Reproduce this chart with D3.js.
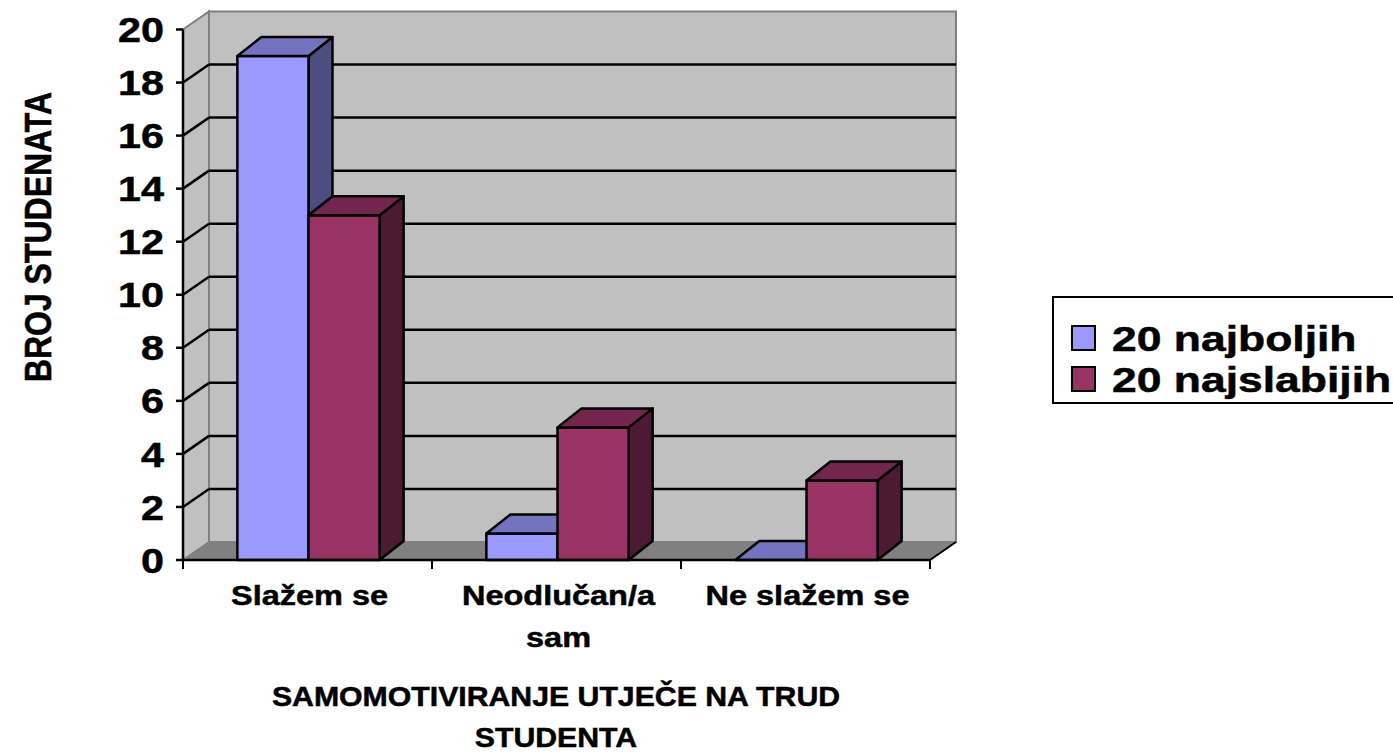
<!DOCTYPE html>
<html>
<head>
<meta charset="utf-8">
<script src="https://cdn.jsdelivr.net/npm/d3@7"></script>
<style>
  body { margin: 0; background: #fff; }
  text { font-family: "Liberation Sans", Arial, sans-serif; font-weight: bold; fill: #000; stroke: #000; stroke-width: 0.5px; }
</style>
</head>
<body>
<div id="chart"></div>
<script>
// data
const categories = ["Slažem se", "Neodlučan/a sam", "Ne slažem se"];
const categoryLines = [["Slažem se"], ["Neodlučan/a", "sam"], ["Ne slažem se"]];
const seriesNames = ["20 najboljih", "20 najslabijih"];
const najboljih = [19, 1, 0];
const najslabijih = [13, 5, 3];
const yTicks = [0, 2, 4, 6, 8, 10, 12, 14, 16, 18, 20];
const yTitle = "BROJ STUDENATA";
const xTitle = ["SAMOMOTIVIRANJE UTJEČE NA TRUD", "STUDENTA"];

const width = 1393, height = 753;
const wallDX = 26, wallDY = -18;   // depth of the walls
const barDX = 24, barDY = -19;     // depth of the bars
const frontColors = ["#9999ff", "#993366"];
const topColors = ["#7373bf", "#73264d"];
const sideColors = ["#4d4d80", "#4d1a33"];

const svg = d3.select("#chart").append("svg")
    .attr("width", width)
    .attr("height", height);

const x = d3.scaleBand().domain(categories).range([183, 930]);
const xs = d3.scaleBand().domain(seriesNames).range([0, x.bandwidth()])
    .paddingInner(0).paddingOuter(0.75);
const y = d3.scaleLinear().domain([0, 20]).range([560, 29.5]);

const x0 = x.range()[0], x1 = x.range()[1];
const yMax = y(20), yMin = y(0);

// walls and floor
svg.append("polygon")
    .attr("points", [[x0, yMin], [x0, yMax], [x0 + wallDX, yMax + wallDY], [x0 + wallDX, yMin + wallDY]].join(" "))
    .style("fill", "#c0c0c0")
    .style("stroke", "#808080")
    .style("stroke-width", 2);

svg.append("rect")
    .attr("x", x0 + wallDX)
    .attr("y", yMax + wallDY)
    .attr("width", x1 - x0)
    .attr("height", yMin - yMax)
    .style("fill", "#c0c0c0")
    .style("stroke", "#808080")
    .style("stroke-width", 2);

svg.append("polygon")
    .attr("points", [[x0, yMin], [x0 + wallDX, yMin + wallDY], [x1 + wallDX, yMin + wallDY], [x1, yMin]].join(" "))
    .style("fill", "#808080")
    .style("stroke", "none");

svg.append("line")
    .attr("x1", x1).attr("y1", yMin)
    .attr("x2", x1 + wallDX).attr("y2", yMin + wallDY)
    .style("stroke", "#000")
    .style("stroke-width", 2);

// gridlines
const grid = svg.append("g");
yTicks.filter(t => t > 0 && t < 20).forEach(t => {
    grid.append("line")
        .attr("x1", x0 + wallDX).attr("y1", y(t) + wallDY)
        .attr("x2", x1 + wallDX).attr("y2", y(t) + wallDY)
        .style("stroke", "#000")
        .style("stroke-width", 2.5);
    grid.append("line")
        .attr("x1", x0).attr("y1", y(t))
        .attr("x2", x0 + wallDX).attr("y2", y(t) + wallDY)
        .style("stroke", "#000")
        .style("stroke-width", 2.5);
});

// bars
const series = [najboljih, najslabijih];
categories.forEach((c, i) => {
    series.forEach((vals, s) => {
        const bx = x(c) + xs(seriesNames[s]) + 1;
        const bw = xs.bandwidth();
        const by = y(vals[i]);
        const g = svg.append("g")
            .style("stroke", "#000")
            .style("stroke-width", 2.5)
            .style("stroke-linejoin", "round");
        if (vals[i] > 0) {
            g.append("polygon")
                .attr("points", [[bx + bw, by], [bx + bw + barDX, by + barDY], [bx + bw + barDX, yMin + barDY], [bx + bw, yMin]].join(" "))
                .style("fill", sideColors[s]);
            g.append("rect")
                .attr("x", bx).attr("y", by)
                .attr("width", bw).attr("height", yMin - by)
                .style("fill", frontColors[s]);
        }
        g.append("polygon")
            .attr("points", [[bx, by], [bx + barDX, by + barDY], [bx + bw + barDX, by + barDY], [bx + bw, by]].join(" "))
            .style("fill", topColors[s]);
    });
});

// axes
svg.append("line")
    .attr("x1", x0).attr("y1", yMin)
    .attr("x2", x0).attr("y2", yMax)
    .style("stroke", "#000").style("stroke-width", 2.5);
svg.append("line")
    .attr("x1", x0).attr("y1", yMin)
    .attr("x2", x1).attr("y2", yMin)
    .style("stroke", "#000").style("stroke-width", 2.5);

yTicks.forEach(t => {
    svg.append("line")
        .attr("x1", x0 - 7).attr("y1", y(t))
        .attr("x2", x0).attr("y2", y(t))
        .style("stroke", "#000").style("stroke-width", 2.5);
    svg.append("text")
        .attr("transform", `translate(164, ${y(t)}) scale(1.18, 1)`)
        .attr("dy", "0.36em")
        .attr("text-anchor", "end")
        .style("font-size", "35px")
        .text(t);
});

const xEdges = categories.map(c => x(c)).concat([x1]);
xEdges.forEach(e => {
    svg.append("line")
        .attr("x1", e).attr("y1", yMin)
        .attr("x2", e).attr("y2", yMin + 9)
        .style("stroke", "#000").style("stroke-width", 2);
});

categories.forEach((c, i) => {
    categoryLines[i].forEach((line, j) => {
        svg.append("text")
            .attr("transform", `translate(${x(c) + x.bandwidth() / 2 + 2}, ${605 + j * 42}) scale(1.16, 1)`)
            .attr("text-anchor", "middle")
            .style("font-size", "28px")
            .text(line);
    });
});

// axis titles
xTitle.forEach((line, j) => {
    svg.append("text")
        .attr("transform", `translate(556, ${706 + j * 41}) scale(1.08, 1)`)
        .attr("text-anchor", "middle")
        .style("font-size", "28px")
        .text(line);
});

svg.append("text")
    .attr("transform", "translate(37, 237) scale(1.18, 1) rotate(-90)")
    .attr("text-anchor", "middle")
    .attr("dy", "0.36em")
    .style("font-size", "32px")
    .text(yTitle);

// legend
const legend = svg.append("g");
legend.append("rect")
    .attr("x", 1053).attr("y", 297)
    .attr("width", 360).attr("height", 106)
    .style("fill", "#fff")
    .style("stroke", "#000")
    .style("stroke-width", 2);

seriesNames.forEach((name, s) => {
    const cy = 338 + s * 41;
    legend.append("rect")
        .attr("x", 1072).attr("y", cy - 12)
        .attr("width", 23).attr("height", 24)
        .style("fill", frontColors[s])
        .style("stroke", "#000")
        .style("stroke-width", 2);
    legend.append("text")
        .attr("transform", `translate(1112, ${cy}) scale(1.27, 1)`)
        .attr("dy", "0.36em")
        .style("font-size", "35px")
        .text(name);
});
</script>
</body>
</html>
